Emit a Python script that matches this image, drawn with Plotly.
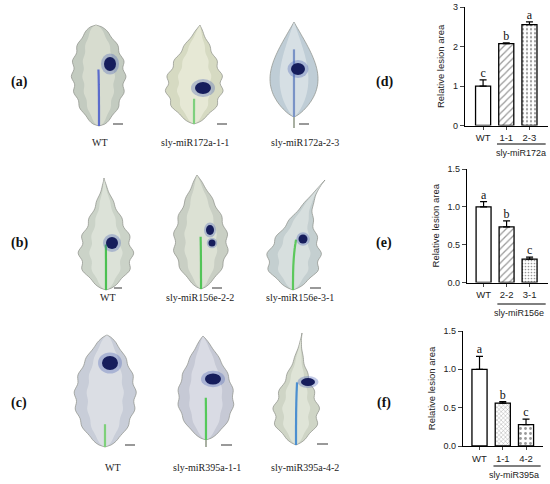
import numpy as np
import plotly.graph_objects as go

W, H = 550, 484

# (d) sly-miR172a
d_labels = ["WT", "1-1", "2-3"]
d_mean = [1.0, 2.08, 2.56]
d_err = [0.16, 0.02, 0.07]
d_sig = ["c", "b", "a"]

# (e) sly-miR156e
e_labels = ["WT", "2-2", "3-1"]
e_mean = [1.0, 0.735, 0.31]
e_err = [0.07, 0.08, 0.025]
e_sig = ["a", "b", "c"]

# (f) sly-miR395a
f_labels = ["WT", "1-1", "4-2"]
f_mean = [1.0, 0.56, 0.28]
f_err = [0.17, 0.02, 0.07]
f_sig = ["a", "b", "c"]

captions = [
    ["WT", "sly-miR172a-1-1", "sly-miR172a-2-3"],
    ["WT", "sly-miR156e-2-2", "sly-miR156e-3-1"],
    ["WT", "sly-miR395a-1-1", "sly-miR395a-4-2"],
]


def px(x, y):
    return x / W, 1 - y / H


fig = go.Figure()
shapes = []
annos = []

# ---- leaf photos, drawn as simple leaf outlines ----
leaves = [
    dict(cx=99, top=25, bot=126, w=52, bend=-3, pmax=0.5, q=0.55, wob=0.05, fill="#c3cbc0",
         inner="#dfe3d6", spots=[(110, 64, 6, 7)], vein="#5b6ccc", vein_from=0.45),
    dict(cx=194, top=25, bot=124, w=55, bend=6, pmax=0.62, q=0.7, wob=0.06, fill="#d6dac2",
         inner="#eceedd", spots=[(203, 88, 8, 6)], vein="#7fd07e", vein_from=0.75),
    dict(cx=294, top=22, bot=117, w=48, bend=0, pmax=0.6, q=0.75, wob=0.0, fill="#bfcdd6",
         inner="#dfe7ea", spots=[(298, 69, 7, 6)], vein="#7a93c6", vein_from=0.3, stem=128),
    dict(cx=106, top=178, bot=290, w=52, bend=-2, pmax=0.68, q=0.7, wob=0.07, fill="#cbd3c8",
         inner="#e3e8de", spots=[(112, 243, 6, 6)], vein="#4cc052", vein_from=0.6),
    dict(cx=201, top=175, bot=289, w=53, bend=-4, pmax=0.6, q=0.7, wob=0.05, fill="#c9cfc4",
         inner="#e4e8dc", spots=[(210, 230, 4, 5), (212, 243, 3.5, 3.5)], vein="#52c457", vein_from=0.55),
    dict(cx=293, top=180, bot=290, w=52, bend=32, pmax=0.72, q=0.8, wob=0.07, fill="#c4cfd0",
         inner="#dfe6e4", spots=[(303, 239, 4.5, 4.5)], vein="#5cc85c", vein_from=0.55),
    dict(cx=105, top=335, bot=447, w=60, bend=2, pmax=0.55, q=0.6, wob=0.04, fill="#c8cdd8",
         inner="#e2e5ea", spots=[(110, 363, 8, 7)], vein="#7ed07a", vein_from=0.8),
    dict(cx=206, top=336, bot=440, w=55, bend=-3, pmax=0.6, q=0.65, wob=0.03, fill="#c6c9d5",
         inner="#e1e3e9", spots=[(213, 379, 8, 5.5)], vein="#55c95a", vein_from=0.6, stem=447),
    dict(cx=296, top=333, bot=445, w=44, bend=6, pmax=0.72, q=0.8, wob=0.08, fill="#cfd5c6",
         inner="#e6e9de", spots=[(308, 382, 7, 4)], vein="#4c8fd0", vein_from=0.45),
]


def outline(lf, scale):
    s = np.linspace(0, 1, 60)
    k = np.log(0.5) / np.log(lf["pmax"])
    half = scale * lf["w"] / 2 * np.sin(np.pi * s ** k) ** lf["q"]
    half = half * (1 + lf["wob"] * np.sin(s * 40))
    mid = lf["cx"] + lf["bend"] * (1 - s) ** 3
    ys = lf["top"] + s * (lf["bot"] - lf["top"])
    pts = [px(mid[i] + half[i], ys[i]) for i in range(len(s))]
    pts += [px(mid[i] - half[i], ys[i]) for i in range(len(s) - 1, -1, -1)]
    return "M " + " L ".join(f"{a:.4f},{b:.4f}" for a, b in pts) + " Z", mid, ys


for lf in leaves:
    path, mid, ys = outline(lf, 1.0)
    shapes.append(dict(type="path", xref="paper", yref="paper", path=path,
                       fillcolor=lf["fill"], line=dict(color="#8b8e86", width=0.7), layer="below"))
    ipath, _, _ = outline(lf, 0.6)
    shapes.append(dict(type="path", xref="paper", yref="paper", path=ipath,
                       fillcolor=lf["inner"], opacity=0.7, line=dict(width=0), layer="below"))
    # midrib
    i0 = int(lf["vein_from"] * 59)
    vpts = [px(mid[i], ys[i]) for i in range(i0, 60)]
    vpath = "M " + " L ".join(f"{a:.4f},{b:.4f}" for a, b in vpts)
    shapes.append(dict(type="path", xref="paper", yref="paper", path=vpath,
                       line=dict(color=lf["vein"], width=2.2)))
    if "stem" in lf:
        x0, y0 = px(mid[-1], lf["bot"])
        x1, y1 = px(mid[-1], lf["stem"])
        shapes.append(dict(type="line", xref="paper", yref="paper", x0=x0, y0=y0, x1=x1, y1=y1,
                           line=dict(color="#a9b0a2", width=2)))
    for (sx, sy, rx, ry) in lf["spots"]:
        a0, b0 = px(sx - rx * 1.5, sy - ry * 1.5)
        a1, b1 = px(sx + rx * 1.5, sy + ry * 1.5)
        shapes.append(dict(type="circle", xref="paper", yref="paper", x0=a0, y0=b0, x1=a1, y1=b1,
                           fillcolor="#5068b8", opacity=0.35, line=dict(width=0)))
        a0, b0 = px(sx - rx, sy - ry)
        a1, b1 = px(sx + rx, sy + ry)
        shapes.append(dict(type="circle", xref="paper", yref="paper", x0=a0, y0=b0, x1=a1, y1=b1,
                           fillcolor="#161d5c", line=dict(width=0)))

# scale bars
for (x0, x1, y) in [(113, 123, 124), (217, 227, 124), (299, 309, 124),
                    (114, 122, 288), (212, 222, 288), (310, 321, 288),
                    (125, 135, 445), (221, 232, 445), (317, 328, 444)]:
    a0, b = px(x0, y)
    a1, _ = px(x1, y)
    shapes.append(dict(type="line", xref="paper", yref="paper", x0=a0, x1=a1, y0=b, y1=b,
                       line=dict(color="#555555", width=1.2)))

# captions under leaves
cap_x = [[100, 195, 305], [108, 200, 300], [113, 207, 305]]
cap_y = [142, 297, 467]
for r in range(3):
    for c in range(3):
        x, y = px(cap_x[r][c], cap_y[r])
        annos.append(dict(x=x, y=y, xref="paper", yref="paper", text=captions[r][c], showarrow=False,
                          xanchor="center", yanchor="middle",
                          font=dict(family="Liberation Serif", size=10, color="#222")))

# panel letters
for t, x, y in [("(a)", 19, 82), ("(b)", 19, 243), ("(c)", 19, 403),
                ("(d)", 384, 82), ("(e)", 384, 243), ("(f)", 384, 403)]:
    a, b = px(x, y)
    annos.append(dict(x=a, y=b, xref="paper", yref="paper", text=f"<b>{t}</b>", showarrow=False,
                      xanchor="center", yanchor="middle",
                      font=dict(family="Liberation Serif", size=14, color="#111")))

# ---- bar panels ----
panels = [
    dict(lab=d_labels, mean=d_mean, err=d_err, sig=d_sig, group="sly-miR172a", ymax=3,
         tv=[0, 1, 2, 3], fmt="d", xpx=(465, 548), ypx=(125.5, 7.3), xr=(-0.78, 2.8),
         pat=["", "/", "."], psize=[6, 5, 4], ul=(144, 153), gx=1.62),
    dict(lab=e_labels, mean=e_mean, err=e_err, sig=e_sig, group="sly-miR156e", ymax=1.5,
         tv=[0, 0.5, 1, 1.5], fmt=".1f", xpx=(467, 548), ypx=(282.5, 169), xr=(-0.72, 2.8),
         pat=["", "/", "."], psize=[6, 5, 3], ul=(304, 313), gx=1.55),
    dict(lab=f_labels, mean=f_mean, err=f_err, sig=f_sig, group="sly-miR395a", ymax=1.5,
         tv=[0, 0.5, 1, 1.5], fmt=".1f", xpx=(463, 543), ypx=(446, 331), xr=(-0.71, 2.73),
         pat=["", "x", "."], psize=[6, 3, 5], ul=(466, 475), gx=1.5),
]

for n, p in enumerate(panels, start=1):
    xa, ya = f"x{n}", f"y{n}"
    fig.add_trace(go.Bar(
        x=[0, 1, 2], y=p["mean"], xaxis=xa, yaxis=ya, width=0.65,
        marker=dict(color="white", line=dict(color="black", width=1.3),
                    pattern=dict(shape=p["pat"], size=p["psize"], fgcolor="#333", solidity=0.25)),
        error_y=dict(type="data", array=p["err"], arrayminus=[0, 0, 0], symmetric=False,
                     color="black", thickness=1.2, width=3.5),
    ))
    fig.add_trace(go.Scatter(
        x=[0, 1, 2], y=[m + e for m, e in zip(p["mean"], p["err"])], xaxis=xa, yaxis=ya,
        mode="text", text=p["sig"], textposition="top center",
        textfont=dict(family="Liberation Serif", size=12, color="#111"),
    ))
    x0, x1 = p["xpx"][0] / W, p["xpx"][1] / W
    yb, yt = 1 - p["ypx"][0] / H, 1 - p["ypx"][1] / H
    sfx = "" if n == 1 else str(n)
    fig.layout[f"xaxis{sfx}"] = dict(
        domain=[x0, x1], range=list(p["xr"]), anchor=ya, showline=True, linecolor="black",
        linewidth=1.3, ticks="outside", ticklen=3, tickwidth=1, tickvals=[0, 1, 2],
        ticktext=p["lab"], tickfont=dict(family="Liberation Sans", size=9.5, color="#222"),
        showgrid=False, zeroline=False, fixedrange=True, automargin=False)
    fig.layout[f"yaxis{sfx}"] = dict(
        domain=[yb, yt], range=[0, p["ymax"]], anchor=xa, showline=True, linecolor="black",
        linewidth=1.3, ticks="outside", ticklen=4, tickwidth=1, tickvals=p["tv"],
        tickformat=p["fmt"], tickfont=dict(family="Liberation Sans", size=9, color="#222"),
        title=dict(text="Relative lesion area", standoff=6,
                   font=dict(family="Liberation Sans", size=9.5, color="#222")),
        showgrid=False, zeroline=False, fixedrange=True, automargin=False)
    # group underline + label
    uy = 1 - p["ul"][0] / H
    shapes.append(dict(type="line", xref=xa, yref="paper", x0=0.6, x1=p["xr"][1] - 0.1,
                       y0=uy, y1=uy, line=dict(color="black", width=1)))
    annos.append(dict(x=p["gx"], y=1 - p["ul"][1] / H, xref=xa, yref="paper", text=p["group"],
                      showarrow=False, xanchor="center", yanchor="middle",
                      font=dict(family="Liberation Sans", size=9, color="#222")))

fig.update_layout(
    width=W, height=H, margin=dict(l=0, r=0, t=0, b=0, autoexpand=False),
    paper_bgcolor="white", plot_bgcolor="white", showlegend=False,
    shapes=shapes, annotations=annos,
)

# the page body has a default 8px margin; drop it so the figure sits at the window origin
fig.write_html("out.html", config={"displayModeBar": False},
               post_script="document.body.style.margin='0';document.body.style.overflow='hidden';")
